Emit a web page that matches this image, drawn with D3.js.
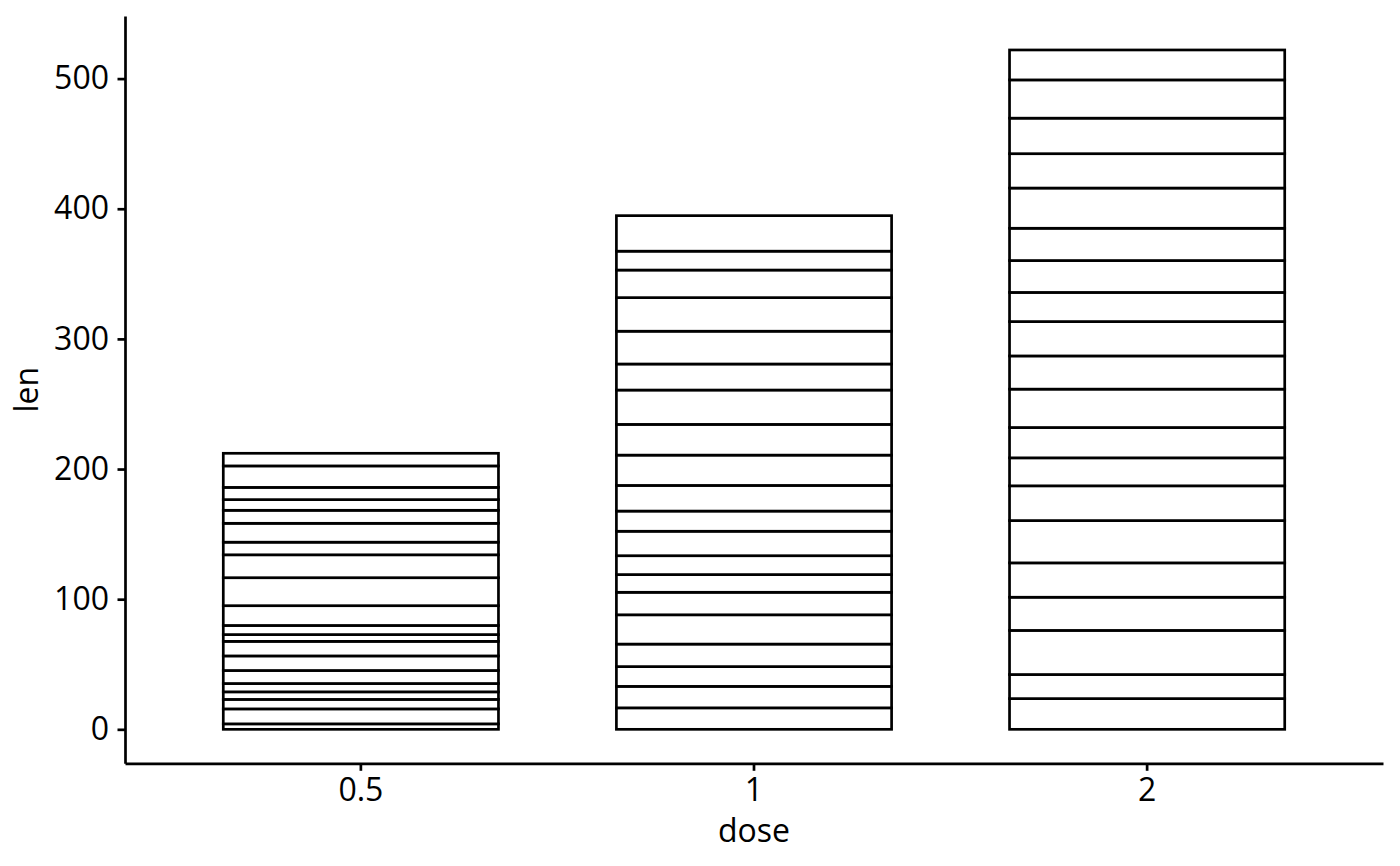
<!DOCTYPE html>
<html>
<head>
<meta charset="utf-8">
<script src="https://cdn.jsdelivr.net/npm/d3@7"></script>
<style>
html,body{margin:0;padding:0;background:#fff;}
svg{display:block;}
text{font-family:"Open Sans","Noto Sans",sans-serif;fill:#000;}
</style>
</head>
<body>
<svg id="chart" width="1400" height="866"></svg>
<script>
// ToothGrowth data (len), in data order: first 10 VC, then 10 OJ per dose
const doses = ["0.5", "1", "2"];
const len_05 = [4.2, 11.5, 7.3, 5.8, 6.4, 10, 11.2, 11.2, 5.2, 7,
                15.2, 21.5, 17.6, 9.7, 14.5, 10, 8.2, 9.4, 16.5, 9.7];
const len_1  = [16.5, 16.5, 15.2, 17.3, 22.5, 17.3, 13.6, 14.5, 18.8, 15.5,
                19.7, 23.3, 23.6, 26.4, 20, 25.2, 25.8, 21.2, 14.5, 27.3];
const len_2  = [23.6, 18.5, 33.9, 25.5, 26.4, 32.5, 26.7, 21.5, 23.3, 29.5,
                25.5, 26.4, 22.4, 24.5, 24.8, 30.9, 26.4, 27.3, 29.4, 23];
const yTicks = [0, 100, 200, 300, 400, 500];
const xTitle = "dose";
const yTitle = "len";

const series = [len_05, len_1, len_2];

// Build stacked segments
const segments = [];
doses.forEach((d, i) => {
  let cum = 0;
  series[i].forEach(v => {
    segments.push({dose: d, y0: cum, y1: cum + v});
    cum += v;
  });
});
const maxTotal = d3.max(series, s => d3.sum(s));

const panel = {left: 125, right: 1383, top: 16, bottom: 763.3};
const pad = maxTotal * 0.05;

const x = d3.scaleBand().domain(doses)
  .range([panel.left, panel.right]).paddingInner(0).paddingOuter(0.1);
const y = d3.scaleLinear().domain([-pad, maxTotal + pad])
  .range([panel.bottom, panel.top]);

const svg = d3.select("#chart");
const lw = 2.7;
const barW = x.bandwidth() * 0.7;

svg.append("g").selectAll("rect").data(segments).enter().append("rect")
  .attr("x", d => x(d.dose) + x.bandwidth() / 2 - barW / 2)
  .attr("width", barW)
  .attr("y", d => y(d.y1))
  .attr("height", d => y(d.y0) - y(d.y1))
  .attr("fill", "#fff")
  .attr("stroke", "#000")
  .attr("stroke-width", lw);

const fs = 32;

const yAxis = svg.append("g")
  .attr("transform", `translate(${panel.left},0)`)
  .call(d3.axisLeft(y).tickValues(yTicks).tickSize(7.5).tickSizeOuter(0).tickPadding(8.5));
const xAxis = svg.append("g")
  .attr("transform", `translate(0,${panel.bottom})`)
  .call(d3.axisBottom(x).tickSize(7.5).tickSizeOuter(0).tickPadding(7));

[yAxis, xAxis].forEach(g => {
  g.select(".domain").attr("stroke", "#000").attr("stroke-width", lw);
  g.selectAll(".tick line").attr("stroke", "#000").attr("stroke-width", lw);
  g.selectAll(".tick text").attr("font-size", fs)
    .attr("font-family", '"Open Sans","Noto Sans",sans-serif').attr("fill", "#000");
});

svg.append("text")
  .attr("x", (panel.left + panel.right) / 2)
  .attr("y", 842)
  .attr("text-anchor", "middle")
  .attr("font-size", fs)
  .text(xTitle);

svg.append("text")
  .attr("transform", `translate(38,${(panel.top + panel.bottom) / 2}) rotate(-90)`)
  .attr("text-anchor", "middle")
  .attr("font-size", fs)
  .text(yTitle);
</script>
</body>
</html>
